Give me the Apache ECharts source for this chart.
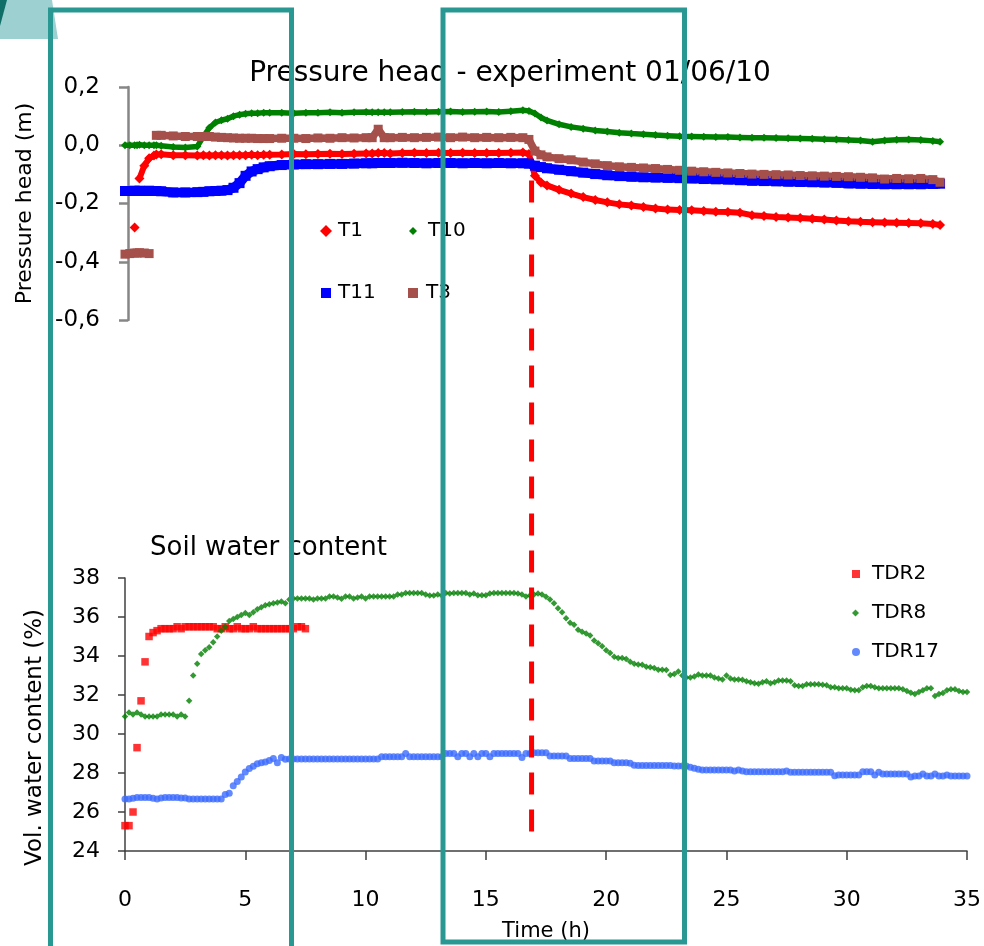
<!DOCTYPE html>
<html><head><meta charset="utf-8">
<script src="https://cdn.jsdelivr.net/npm/echarts@6/dist/echarts.min.js"></script>
<style>html,body{margin:0;padding:0;background:#fff}#c{width:984px;height:946px}</style>
</head><body><div id="c"></div>
<script>
// ---------- texts ----------
const topTitle = 'Pressure head - experiment 01/06/10';
const bottomTitle = 'Soil water content';
const topYName = 'Pressure head (m)';
const bottomYName = 'Vol. water content (%)';
const xName = 'Time (h)';

// ---------- pressure head (tensiometers), time in hours ----------
const topTime = [0, 0.2, 0.4, 0.5, 0.6, 0.8, 1, 1.2, 1.3, 1.5,
  2, 2.5, 3, 3.25, 3.5, 3.75, 4, 4.25, 4.5, 4.75,
  5, 5.25, 5.5, 5.75, 6, 6.5, 7, 7.5, 8, 8.5,
  9, 9.5, 10, 10.25, 10.5, 10.75, 11, 11.5, 12, 12.5, 13, 13.5,
  14, 14.5, 15, 15.5, 16, 16.5, 16.75, 17, 17.25, 17.5,
  18, 18.5, 19, 19.5, 20, 20.5, 21, 21.5, 22, 22.5,
  23, 23.5, 24, 24.5, 25, 25.5, 26, 26.5, 27, 27.5,
  28, 28.5, 29, 29.5, 30, 30.5, 31, 31.5, 32, 32.5,
  33, 33.5, 33.8];

const t1 = [null, null, -0.282, null, -0.114, -0.07, -0.045, -0.035, -0.032, -0.031,
  -0.034, -0.034, -0.035, -0.034, -0.035, -0.034, -0.034, -0.035, -0.034, -0.034,
  -0.034, -0.033, -0.034, -0.033, -0.033, -0.032, -0.03, -0.031, -0.03, -0.029,
  -0.03, -0.029, -0.028, -0.028, -0.027, -0.027, -0.028, -0.027, -0.026, -0.027, -0.026, -0.027,
  -0.026, -0.027, -0.027, -0.027, -0.026, -0.025, -0.03, -0.105, -0.128, -0.138,
  -0.153, -0.166, -0.178, -0.188, -0.196, -0.203, -0.207, -0.212, -0.217, -0.221,
  -0.222, -0.223, -0.226, -0.228, -0.229, -0.232, -0.24, -0.243, -0.246, -0.248,
  -0.25, -0.252, -0.255, -0.258, -0.261, -0.263, -0.264, -0.265, -0.266, -0.267,
  -0.268, -0.27, -0.274];

const t10 = [0.0, 0.0, 0.0, 0.0, 0.002, 0.0, 0.0, 0.0, 0.0, -0.002,
  -0.006, -0.008, -0.004, 0.03, 0.06, 0.078, 0.086, 0.091, 0.1, 0.105,
  0.108, 0.11, 0.11, 0.112, 0.112, 0.112, 0.11, 0.112, 0.112, 0.113,
  0.112, 0.113, 0.114, 0.113, 0.113, 0.113, 0.113, 0.114, 0.115, 0.114, 0.115, 0.116,
  0.114, 0.115, 0.116, 0.114, 0.117, 0.12, 0.118, 0.109, 0.095, 0.085,
  0.072, 0.063, 0.057, 0.051, 0.047, 0.043, 0.04, 0.038, 0.035, 0.033,
  0.031, 0.03, 0.029, 0.028, 0.028, 0.027, 0.026, 0.026, 0.025, 0.024,
  0.023, 0.022, 0.021, 0.02, 0.018, 0.016, 0.012, 0.016, 0.019, 0.02,
  0.018, 0.015, 0.012];

const t11 = [-0.157, -0.157, -0.156, -0.157, -0.156, -0.157, -0.156, -0.157, -0.157, -0.158,
  -0.162, -0.162, -0.161, -0.16, -0.158, -0.157, -0.156, -0.154, -0.146, -0.13,
  -0.105, -0.09, -0.082, -0.076, -0.072, -0.068, -0.066, -0.065, -0.065, -0.064,
  -0.064, -0.063, -0.062, -0.062, -0.061, -0.061, -0.061, -0.06, -0.061, -0.062, -0.061, -0.061,
  -0.062, -0.061, -0.062, -0.061, -0.062, -0.062, -0.063, -0.07, -0.075, -0.079,
  -0.084, -0.089, -0.094, -0.099, -0.103, -0.106, -0.108, -0.11, -0.111, -0.112,
  -0.113, -0.114, -0.116, -0.117, -0.118, -0.12, -0.122, -0.123, -0.124, -0.125,
  -0.126, -0.127, -0.128, -0.129, -0.131, -0.132, -0.133, -0.134, -0.134, -0.134,
  -0.134, -0.133, -0.132];

const t3 = [-0.374, -0.372, -0.37, -0.37, -0.369, -0.37, -0.372, null, 0.034, 0.034,
  0.032, 0.03, 0.03, 0.03, 0.03, 0.028, 0.027, 0.026, 0.025, 0.024,
  0.024, 0.024, 0.023, 0.023, 0.023, 0.024, 0.024, 0.023, 0.025, 0.024,
  0.026, 0.025, 0.026, 0.026, 0.055, 0.026, 0.026, 0.027, 0.026, 0.027, 0.028, 0.026,
  0.028, 0.026, 0.027, 0.026, 0.027, 0.026, 0.02, -0.02, -0.033, -0.04,
  -0.046, -0.05, -0.058, -0.064, -0.07, -0.074, -0.076, -0.078, -0.08, -0.083,
  -0.086, -0.089, -0.091, -0.093, -0.095, -0.097, -0.099, -0.1, -0.101, -0.102,
  -0.104, -0.105, -0.106, -0.107, -0.108, -0.11, -0.112, -0.116, -0.114, -0.115,
  -0.114, -0.118, -0.127];

// ---------- soil water content (TDR), logged every 10 minutes from t = 0 ----------
const tdrStepHours = 1 / 6;

const tdr2 = [25.3, 25.3, 26.0, 29.3, 31.7, 33.7,
  35.0, 35.2, 35.3, 35.4, 35.4, 35.4,
  35.4, 35.5, 35.4, 35.5, 35.5, 35.5,
  35.5, 35.5, 35.5, 35.5, 35.5, 35.4,
  35.4, 35.5, 35.4, 35.4, 35.5, 35.4,
  35.4, 35.4, 35.5, 35.4, 35.4, 35.4,
  35.4, 35.4, 35.4, 35.4, 35.4, 35.4,
  35.4, 35.5, 35.5, 35.4];

const tdr8 = [30.9, 31.1, 31.0, 31.1, 31.0, 30.9,
  30.9, 30.9, 30.9, 31.0, 31.0, 31.0,
  31.0, 30.9, 31.0, 30.9, 31.7, 33.0,
  33.6, 34.1, 34.3, 34.45, 34.7, 35.0,
  35.3, 35.5, 35.8, 35.9, 36.0, 36.1,
  36.2, 36.1, 36.25, 36.4, 36.5, 36.6,
  36.65, 36.7, 36.75, 36.8, 36.7, 36.9,
  36.95, 36.95, 36.95, 36.95, 36.95, 36.9,
  36.95, 36.95, 36.95, 37.05, 37.05, 37.0,
  36.94, 37.05, 37.05, 36.95, 37.0, 37.05,
  36.95, 37.05, 37.05, 37.05, 37.05, 37.05,
  37.05, 37.05, 37.15, 37.15, 37.23, 37.23,
  37.23, 37.23, 37.23, 37.15, 37.1, 37.1,
  37.15, 37.1, 37.23, 37.2, 37.23, 37.23,
  37.23, 37.23, 37.15, 37.2, 37.12, 37.12,
  37.12, 37.2, 37.23, 37.23, 37.23, 37.23,
  37.23, 37.23, 37.2, 37.15, 37.05, 37.1,
  37.15, 37.2, 37.15, 37.04, 36.9, 36.7,
  36.45, 36.25, 35.93, 35.7, 35.6, 35.35,
  35.25, 35.15, 35.05, 34.8, 34.65, 34.5,
  34.3, 34.15, 33.96, 33.9, 33.9, 33.85,
  33.7, 33.6, 33.57, 33.55, 33.45, 33.42,
  33.38, 33.3, 33.3, 33.28, 33.03, 33.08,
  33.2, 33.0, 32.9, 32.9, 32.95, 33.05,
  33.0, 33.0, 33.0, 32.9, 32.85, 32.8,
  33.0, 32.85, 32.8, 32.8, 32.78, 32.7,
  32.65, 32.6, 32.58, 32.65, 32.7, 32.6,
  32.65, 32.75, 32.75, 32.75, 32.7, 32.5,
  32.46, 32.46, 32.55, 32.55, 32.55, 32.55,
  32.52, 32.5, 32.4, 32.4, 32.34, 32.34,
  32.34, 32.27, 32.25, 32.25, 32.4, 32.46,
  32.46, 32.4, 32.34, 32.34, 32.34, 32.34,
  32.34, 32.34, 32.3, 32.2, 32.12, 32.05,
  32.15, 32.25, 32.34, 32.34, 31.95, 32.05,
  32.1, 32.25, 32.3, 32.3, 32.2, 32.15,
  32.15];

const tdr17 = [26.67, 26.67, 26.7, 26.75, 26.75, 26.75,
  26.75, 26.7, 26.67, 26.72, 26.75, 26.75,
  26.75, 26.75, 26.72, 26.72, 26.67, 26.67,
  26.67, 26.67, 26.67, 26.67, 26.67, 26.67,
  26.67, 26.9, 26.96, 27.35, 27.57, 27.8,
  28.05, 28.23, 28.35, 28.47, 28.52, 28.57,
  28.64, 28.74, 28.52, 28.8, 28.7, 28.72,
  28.72, 28.72, 28.72, 28.72, 28.72, 28.72,
  28.72, 28.72, 28.72, 28.72, 28.72, 28.72,
  28.72, 28.72, 28.72, 28.72, 28.72, 28.72,
  28.72, 28.72, 28.72, 28.72, 28.83, 28.83,
  28.83, 28.83, 28.83, 28.83, 29.0, 28.83,
  28.83, 28.83, 28.83, 28.83, 28.83, 28.83,
  28.83, 28.83, 29.0, 29.0, 29.0, 28.83,
  29.0, 29.0, 28.83, 29.0, 28.83, 29.0,
  29.0, 28.83, 29.0, 29.0, 29.0, 29.0,
  29.0, 29.0, 29.0, 28.8, 29.0, 29.0,
  29.04, 29.04, 29.04, 29.04, 28.87, 28.87,
  28.87, 28.87, 28.87, 28.75, 28.75, 28.75,
  28.75, 28.75, 28.75, 28.62, 28.62, 28.62,
  28.62, 28.62, 28.53, 28.53, 28.53, 28.53,
  28.5, 28.4, 28.38, 28.38, 28.38, 28.38,
  28.38, 28.38, 28.38, 28.38, 28.38, 28.36,
  28.36, 28.36, 28.36, 28.3, 28.25, 28.19,
  28.15, 28.15, 28.15, 28.15, 28.15, 28.15,
  28.15, 28.15, 28.1, 28.15, 28.1, 28.07,
  28.07, 28.07, 28.07, 28.07, 28.07, 28.07,
  28.07, 28.07, 28.07, 28.1, 28.04, 28.04,
  28.04, 28.04, 28.04, 28.04, 28.04, 28.04,
  28.04, 28.04, 28.04, 27.86, 27.9, 27.9,
  27.9, 27.9, 27.9, 27.9, 28.07, 28.07,
  28.07, 27.9, 28.04, 27.95, 27.95, 27.95,
  27.95, 27.95, 27.95, 27.95, 27.8, 27.85,
  27.85, 27.95, 27.85, 27.85, 27.95, 27.85,
  27.85, 27.9, 27.85, 27.85, 27.85, 27.85,
  27.85];

// drainage start marked by the dashed line (h), and its vertical extent
const drainStartHours = 16.9;
const dashTopHead = -0.085;   // m, on pressure-head axis
const dashBottomWC = 25;      // %, on water-content axis

// ---------- helpers ----------
const pairs = (xs, ys) => ys.map((v, i) => [xs[i], v]);
const tdrTime = tdr8.map((_, i) => +(i * tdrStepHours).toFixed(4));

const FONT = 'DejaVu Sans';
const chart = echarts.init(document.getElementById('c'), null, {renderer: 'canvas'});

function legendOne(name, icon, left, top, size, padLeft) {
  return {
    data: [{name: name, icon: icon}], left: left, top: top, padding: 0,
    itemWidth: size, itemHeight: size, selectedMode: false,
    textStyle: {fontFamily: FONT, fontSize: 20, color: '#000', padding: [0, 0, 0, padLeft]}
  };
}

const option = {
  animation: false,
  textStyle: {fontFamily: FONT},
  title: [
    {text: topTitle, left: 510, top: 60, textAlign: 'center', padding: 0,
     textStyle: {fontFamily: FONT, fontSize: 28, fontWeight: 'normal', color: '#000'}},
    {text: bottomTitle, left: 150, top: 535, padding: 0,
     textStyle: {fontFamily: FONT, fontSize: 26, fontWeight: 'normal', color: '#000'}}
  ],
  legend: [
    legendOne('T1', 'diamond', 320, 221, 12, 1),
    legendOne('T10', 'diamond', 409, 221, 8, 6),
    legendOne('T11', 'rect', 321, 283, 10, 2),
    legendOne('T3', 'rect', 408, 283, 10, 3),
    legendOne('TDR2', 'rect', 852, 564, 8, 7),
    legendOne('TDR8', 'diamond', 852, 603, 7, 8),
    legendOne('TDR17', 'circle', 852, 642, 8, 7)
  ],
  grid: [
    {left: 125, top: 87, width: 844, height: 233},
    {left: 125, top: 578, width: 844, height: 273}
  ],
  xAxis: [
    {gridIndex: 0, type: 'value', min: 0, max: 35, show: false},
    {gridIndex: 1, type: 'value', min: 0, max: 35, interval: 5,
     axisLine: {lineStyle: {color: '#404040', width: 1.5}},
     axisTick: {show: true, length: 9, lineStyle: {color: '#404040', width: 1.5}},
     axisLabel: {margin: 38, fontSize: 22, color: '#000', fontFamily: FONT},
     splitLine: {show: false},
     name: xName, nameLocation: 'middle', nameGap: 70,
     nameTextStyle: {fontFamily: FONT, fontSize: 21, color: '#000'}}
  ],
  yAxis: [
    {gridIndex: 0, type: 'value', min: -0.6, max: 0.2, interval: 0.2, offset: -3,
     axisLine: {show: true, lineStyle: {color: '#868686', width: 2.5}},
     axisTick: {show: true, length: 9, lineStyle: {color: '#868686', width: 2.5}},
     axisLabel: {margin: 28, fontSize: 23, color: '#000', fontFamily: FONT,
       formatter: v => (Math.abs(v) < 1e-9 ? 0 : v).toFixed(1).replace('.', ',')},
     splitLine: {show: false},
     name: topYName, nameLocation: 'middle', nameRotate: 90, nameGap: 92,
     nameTextStyle: {fontFamily: FONT, fontSize: 22, color: '#000'}},
    {gridIndex: 1, type: 'value', min: 24, max: 38, interval: 2,
     axisLine: {show: true, lineStyle: {color: '#404040', width: 1.5}},
     axisTick: {show: true, length: 7, lineStyle: {color: '#404040', width: 1.5}},
     axisLabel: {margin: 25, fontSize: 22, color: '#000', fontFamily: FONT},
     splitLine: {show: false},
     name: bottomYName, nameLocation: 'middle', nameRotate: 90, nameGap: 78,
     nameTextStyle: {fontFamily: FONT, fontSize: 23, color: '#000', padding: [0, 46, 0, 0]}}
  ],
  series: [
    {name: 'T1', type: 'line', xAxisIndex: 0, yAxisIndex: 0, data: pairs(topTime, t1),
     symbol: 'diamond', symbolSize: 10, showSymbol: true, connectNulls: false,
     lineStyle: {width: 6, color: '#ff0000'}, itemStyle: {color: '#ff0000'}},
    {name: 'T10', type: 'line', xAxisIndex: 0, yAxisIndex: 0, data: pairs(topTime, t10),
     symbol: 'diamond', symbolSize: 8, showSymbol: true,
     lineStyle: {width: 5.5, color: '#008000'}, itemStyle: {color: '#008000'}},
    {name: 'T11', type: 'line', xAxisIndex: 0, yAxisIndex: 0, data: pairs(topTime, t11),
     symbol: 'rect', symbolSize: 10, showSymbol: true,
     lineStyle: {width: 9.5, color: '#0000ff'}, itemStyle: {color: '#0000ff'}},
    {name: 'T3', type: 'line', xAxisIndex: 0, yAxisIndex: 0, data: pairs(topTime, t3),
     symbol: 'rect', symbolSize: 9, showSymbol: true, connectNulls: false,
     lineStyle: {width: 7.5, color: '#a6504b'}, itemStyle: {color: '#a6504b'}},
    {name: 'TDR2', type: 'scatter', xAxisIndex: 1, yAxisIndex: 1, data: pairs(tdrTime, tdr2),
     symbol: 'rect', symbolSize: 7.5, itemStyle: {color: '#ff0000'}},
    {name: 'TDR8', type: 'scatter', xAxisIndex: 1, yAxisIndex: 1, data: pairs(tdrTime, tdr8),
     symbol: 'diamond', symbolSize: 6.5, itemStyle: {color: '#008000'}},
    {name: 'TDR17', type: 'scatter', xAxisIndex: 1, yAxisIndex: 1, data: pairs(tdrTime, tdr17),
     symbol: 'circle', symbolSize: 7, itemStyle: {color: '#3c6cff'}}
  ]
};

chart.setOption(option);

const xDash = chart.convertToPixel({xAxisIndex: 1}, drainStartHours);
const yDashTop = chart.convertToPixel({yAxisIndex: 0}, dashTopHead);
const yDashBottom = chart.convertToPixel({yAxisIndex: 1}, dashBottomWC);
const TEAL = '#2a9892';

chart.setOption({
  graphic: [
    {type: 'polygon', z: 100, silent: true,
     shape: {points: [[0, 0], [52, 0], [58, 39], [0, 39]]}, style: {fill: '#9dd0d0'}},
    {type: 'polygon', z: 101, silent: true,
     shape: {points: [[0, 0], [7, 0], [0, 26]]}, style: {fill: '#0f6e68'}},
    {type: 'line', z: 102, silent: true,
     shape: {x1: xDash, y1: yDashBottom, x2: xDash, y2: yDashTop},
     style: {stroke: '#ff0000', lineWidth: 5, lineDash: [22, 15]}},
    {type: 'rect', z: 103, silent: true,
     shape: {x: 50.5, y: 10, width: 241, height: 960},
     style: {fill: 'none', stroke: TEAL, lineWidth: 5}},
    {type: 'rect', z: 103, silent: true,
     shape: {x: 443, y: 10, width: 241.5, height: 932},
     style: {fill: 'none', stroke: TEAL, lineWidth: 5}}
  ]
});
</script>
</body></html>
